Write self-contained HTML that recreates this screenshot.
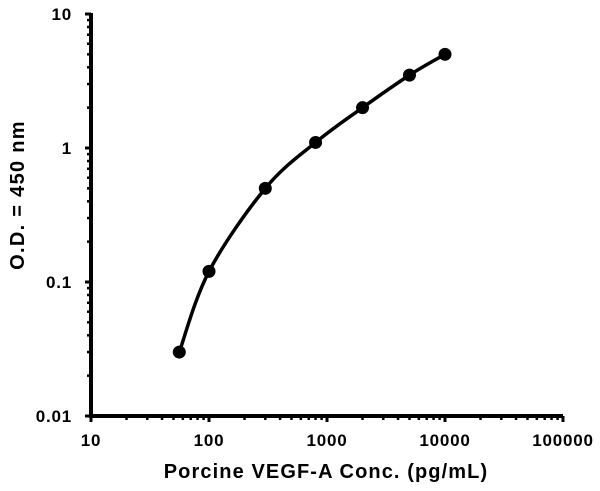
<!DOCTYPE html>
<html><head><style>body{margin:0;background:#fff}svg{display:block}</style></head>
<body>
<svg id="s" width="600" height="491" xmlns="http://www.w3.org/2000/svg" font-family="'Liberation Sans',sans-serif" font-weight="bold">
<text x="24" y="195" transform="rotate(-90 24 195)" text-anchor="middle" font-size="20" letter-spacing="1.3" fill="#000">O.D. = 450 nm</text>
<text x="326" y="478" text-anchor="middle" font-size="20" letter-spacing="1.1" fill="#000">Porcine VEGF-A Conc. (pg/mL)</text>
</svg>
<script>
var s=document.getElementById('s'),NS='http://www.w3.org/2000/svg';
function el(t,a,txt){var e=document.createElementNS(NS,t);for(var k in a)e.setAttribute(k,a[k]);if(txt)e.textContent=txt;s.appendChild(e);return e;}
var X0=91,DX=118,Y0=416,DY=134;
function X(v){return X0+DX*(Math.log10(v)-1);}
function Y(v){return Y0-DY*(Math.log10(v)+2);}
el('line',{x1:91,y1:13,x2:91,y2:417,stroke:'#000','stroke-width':4});
el('line',{x1:89,y1:416,x2:563,y2:416,stroke:'#000','stroke-width':4});
var yl=['0.01','0.1','1','10'];
for(var d=0;d<4;d++){var yv=Math.pow(10,d-2);var y=Y(yv);
 el('line',{x1:85,y1:y,x2:91,y2:y,stroke:'#000','stroke-width':3});
 el('text',{x:72,y:y+6,'text-anchor':'end','font-size':17,'letter-spacing':0.8},yl[d]);
 if(d<3)for(var m=2;m<10;m++){var yy=Y(yv*m);el('line',{x1:87,y1:yy,x2:91,y2:yy,stroke:'#000','stroke-width':2.5});}}
var xl=['10','100','1000','10000','100000'];
for(var d=0;d<5;d++){var xv=Math.pow(10,d+1);var x=X(xv);
 el('line',{x1:x,y1:416,x2:x,y2:422,stroke:'#000','stroke-width':3});
 el('text',{x:x,y:446,'text-anchor':'middle','font-size':17,'letter-spacing':0.8},xl[d]);
 if(d<4)for(var m=2;m<10;m++){var xx=X(xv*m);el('line',{x1:xx,y1:416,x2:xx,y2:420,stroke:'#000','stroke-width':2.5});}}
var pts=[[56,0.03],[100,0.12],[300,0.5],[800,1.1],[2000,2],[5000,3.5],[10000,5]].map(function(p){return[X(p[0]),Y(p[1])];});
var dd='M'+pts[0][0]+','+pts[0][1];
for(var i=0;i<pts.length-1;i++){var p0=pts[Math.max(i-1,0)],p1=pts[i],p2=pts[i+1],p3=pts[Math.min(i+2,pts.length-1)];
 dd+=' C'+(p1[0]+(p2[0]-p0[0])/6)+','+(p1[1]+(p2[1]-p0[1])/6)+' '+(p2[0]-(p3[0]-p1[0])/6)+','+(p2[1]-(p3[1]-p1[1])/6)+' '+p2[0]+','+p2[1];}
el('path',{d:dd,fill:'none',stroke:'#000','stroke-width':3.5});
pts.forEach(function(p){el('circle',{cx:p[0],cy:p[1],r:6.5,fill:'#000'});});
</script>
</body></html>
